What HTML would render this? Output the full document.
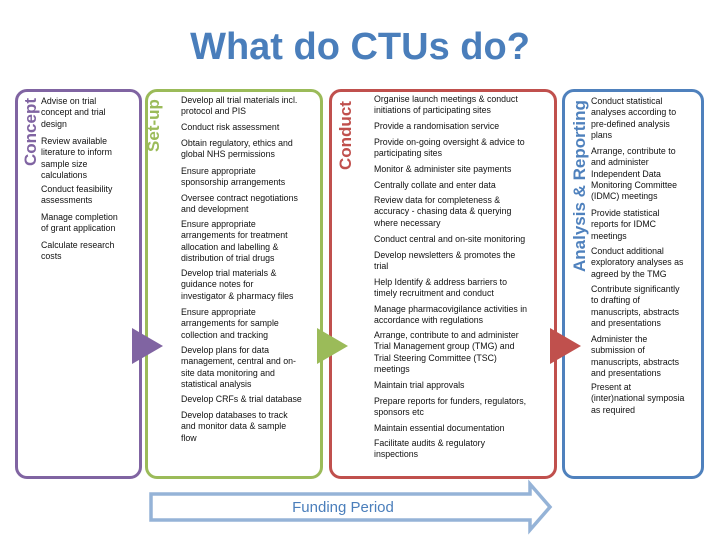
<!DOCTYPE html>
<html><head><meta charset="utf-8"><style>
body{margin:0;width:720px;height:540px;background:#fff;position:relative;overflow:hidden;font-family:"Liberation Sans",sans-serif}
.box{position:absolute;border:3px solid;border-radius:12px;box-sizing:border-box}
.t{position:absolute;font-size:8.8px;line-height:11.3px;color:#111;white-space:nowrap}
.lab{position:absolute;transform:rotate(-90deg);transform-origin:left top;font-size:17px;font-weight:bold;white-space:nowrap;line-height:20px}
.tri{position:absolute;width:0;height:0;border-top:18px solid transparent;border-bottom:18px solid transparent}
</style></head><body>
<div style="position:absolute;left:0;top:22px;width:720px;text-align:center;font-size:38px;font-weight:bold;color:#4a7ebb;line-height:50px">What do CTUs do?</div>

<div class="box" style="left:15px;top:89px;width:127px;height:390px;border-color:#8064a2"></div>
<div class="box" style="left:145px;top:89px;width:178px;height:390px;border-color:#9bbb59"></div>
<div class="box" style="left:329px;top:89px;width:228px;height:390px;border-color:#c0504d"></div>
<div class="box" style="left:562px;top:89px;width:142px;height:390px;border-color:#4f81bd"></div>

<div class="lab" style="left:21px;top:166px;color:#8064a2">Concept</div>
<div class="lab" style="left:144px;top:152px;color:#9bbb59">Set-up</div>
<div class="lab" style="left:336px;top:170px;color:#c0504d">Conduct</div>
<div class="lab" style="left:570px;top:272px;color:#4f81bd">Analysis &amp; Reporting</div>

<div class="tri" style="left:132px;top:328px;border-left:31px solid #8064a2"></div>
<div class="tri" style="left:317px;top:328px;border-left:31px solid #9bbb59"></div>
<div class="tri" style="left:550px;top:328px;border-left:31px solid #c0504d"></div>

<!-- Concept -->
<div class="t" style="left:41px;top:96px">Advise on trial<br>concept and trial<br>design</div>
<div class="t" style="left:41px;top:136px">Review available<br>literature to inform<br>sample size<br>calculations</div>
<div class="t" style="left:41px;top:184px">Conduct feasibility<br>assessments</div>
<div class="t" style="left:41px;top:212px">Manage completion<br>of grant application</div>
<div class="t" style="left:41px;top:240px">Calculate research<br>costs</div>

<!-- Set-up -->
<div class="t" style="left:181px;top:95px">Develop all trial materials incl.<br>protocol and PIS</div>
<div class="t" style="left:181px;top:122px">Conduct risk assessment</div>
<div class="t" style="left:181px;top:138px">Obtain regulatory, ethics and<br>global NHS permissions</div>
<div class="t" style="left:181px;top:166px">Ensure appropriate<br>sponsorship arrangements</div>
<div class="t" style="left:181px;top:193px">Oversee contract negotiations<br>and development</div>
<div class="t" style="left:181px;top:219px">Ensure appropriate<br>arrangements for treatment<br>allocation and labelling &amp;<br>distribution of trial drugs</div>
<div class="t" style="left:181px;top:268px">Develop trial materials &amp;<br>guidance notes for<br>investigator &amp; pharmacy files</div>
<div class="t" style="left:181px;top:307px">Ensure appropriate<br>arrangements for sample<br>collection and tracking</div>
<div class="t" style="left:181px;top:345px">Develop plans for data<br>management, central and on-<br>site data monitoring and<br>statistical analysis</div>
<div class="t" style="left:181px;top:394px">Develop CRFs &amp; trial database</div>
<div class="t" style="left:181px;top:410px">Develop databases to track<br>and monitor data &amp; sample<br>flow</div>

<!-- Conduct -->
<div class="t" style="left:374px;top:94px">Organise launch meetings &amp; conduct<br>initiations of participating sites</div>
<div class="t" style="left:374px;top:121px">Provide a randomisation service</div>
<div class="t" style="left:374px;top:137px">Provide on-going oversight &amp; advice to<br>participating sites</div>
<div class="t" style="left:374px;top:164px">Monitor &amp; administer site payments</div>
<div class="t" style="left:374px;top:180px">Centrally collate and enter data</div>
<div class="t" style="left:374px;top:195px">Review data for completeness &amp;<br>accuracy - chasing data &amp; querying<br>where necessary</div>
<div class="t" style="left:374px;top:234px">Conduct central and on-site monitoring</div>
<div class="t" style="left:374px;top:250px">Develop newsletters &amp; promotes the<br>trial</div>
<div class="t" style="left:374px;top:277px">Help Identify &amp; address barriers to<br>timely recruitment and conduct</div>
<div class="t" style="left:374px;top:304px">Manage pharmacovigilance activities in<br>accordance with regulations</div>
<div class="t" style="left:374px;top:330px">Arrange, contribute to and administer<br>Trial Management group (TMG) and<br>Trial Steering Committee (TSC)<br>meetings</div>
<div class="t" style="left:374px;top:380px">Maintain trial approvals</div>
<div class="t" style="left:374px;top:396px">Prepare reports for funders, regulators,<br>sponsors etc</div>
<div class="t" style="left:374px;top:423px">Maintain essential documentation</div>
<div class="t" style="left:374px;top:438px">Facilitate audits &amp; regulatory<br>inspections</div>

<!-- Analysis -->
<div class="t" style="left:591px;top:96px">Conduct statistical<br>analyses according to<br>pre-defined analysis<br>plans</div>
<div class="t" style="left:591px;top:146px">Arrange, contribute to<br>and administer<br>Independent Data<br>Monitoring Committee<br>(IDMC) meetings</div>
<div class="t" style="left:591px;top:208px">Provide statistical<br>reports for IDMC<br>meetings</div>
<div class="t" style="left:591px;top:246px">Conduct additional<br>exploratory analyses as<br>agreed by the TMG</div>
<div class="t" style="left:591px;top:284px">Contribute significantly<br>to drafting of<br>manuscripts, abstracts<br>and presentations</div>
<div class="t" style="left:591px;top:334px">Administer the<br>submission of<br>manuscripts, abstracts<br>and presentations</div>
<div class="t" style="left:591px;top:382px">Present at<br>(inter)national symposia<br>as required</div>

<svg style="position:absolute;left:0;top:0" width="720" height="540">
<polygon points="151,494 530,494 530,484 550,507 530,530 530,520 151,520" fill="#fff" stroke="#95b3d7" stroke-width="3.5"/>
<text x="343" y="512" text-anchor="middle" font-family="Liberation Sans" font-size="15" fill="#4a7ebb">Funding Period</text>
</svg>
</body></html>
